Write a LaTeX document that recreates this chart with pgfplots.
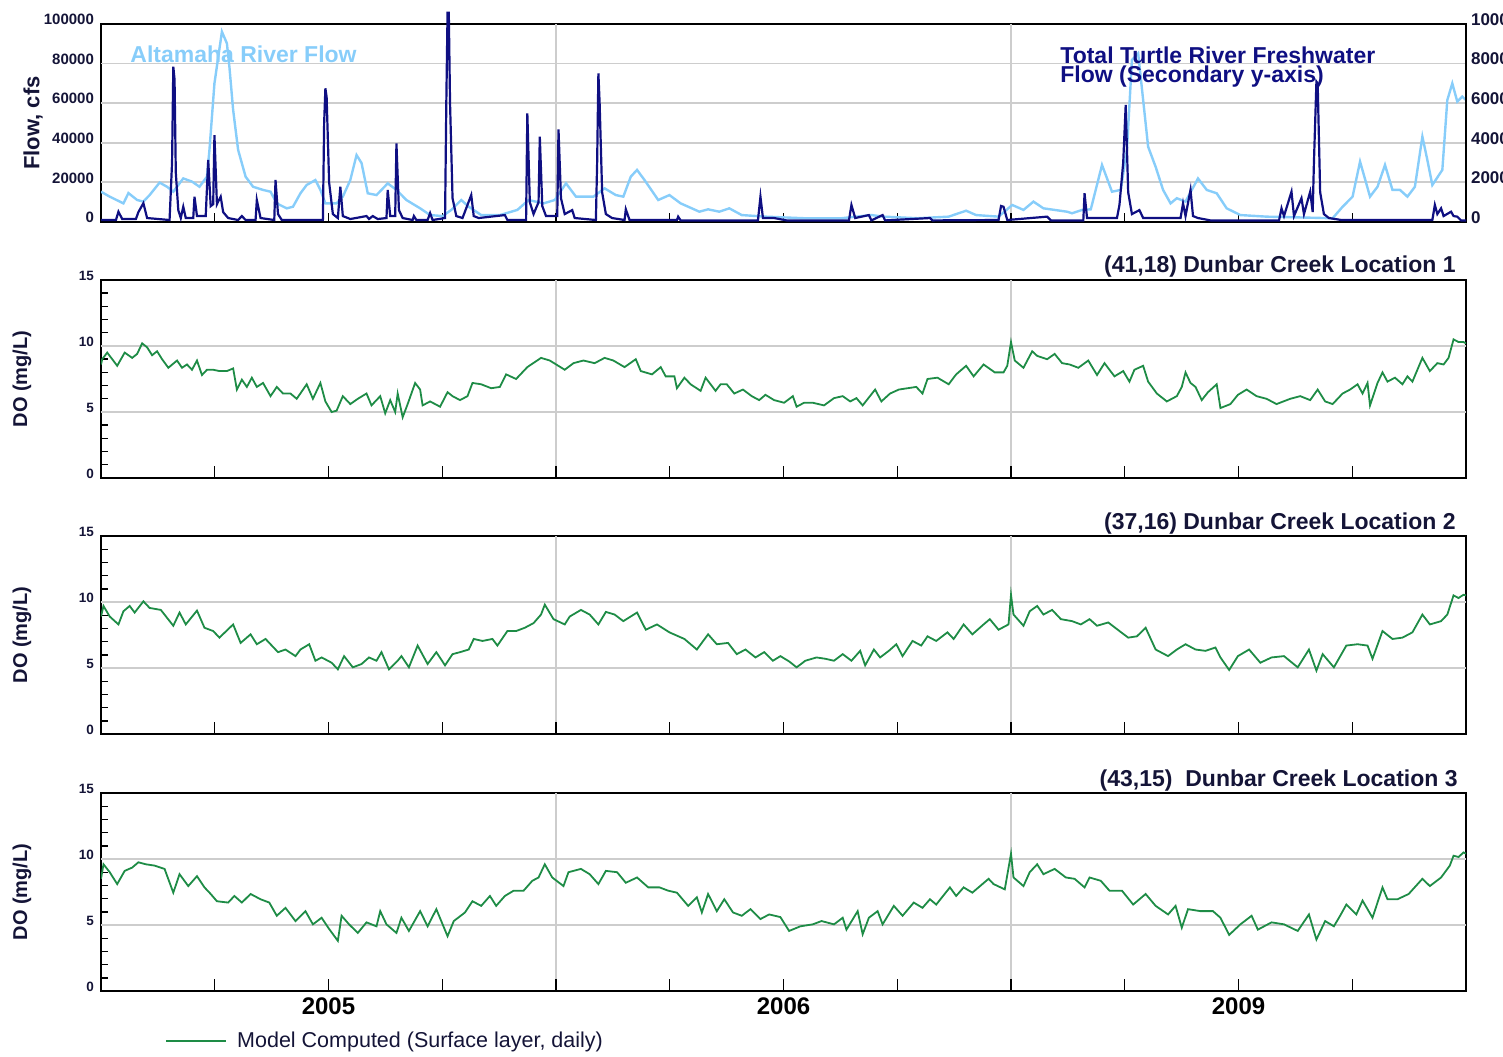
\documentclass[border=0pt]{standalone}
\usepackage{fontspec}
\setmainfont{Liberation Sans}
\usepackage{pgfplots}
\usepackage{pgfplotstable}
\pgfplotsset{compat=1.18}

\definecolor{altblue}{RGB}{135,205,250}
\definecolor{turtlenavy}{RGB}{15,15,130}
\definecolor{dogreen}{RGB}{30,140,70}
\definecolor{gridgray}{RGB}{205,205,205}
\definecolor{labnavy}{RGB}{20,20,55}

% Altamaha River flow (cfs), day from start of record
\pgfplotstableread{
day flow
0 15300
7 12800
18 9400
22 14600
29 11100
34 10300
39 13600
47 19900
53 17800
58 15300
66 22000
73 20400
79 17800
85 22900
87 36400
91 70000
97 96100
101 90200
103 78400
106 56600
110 36400
116 22900
122 17800
130 16200
136 15300
141 9400
149 6900
154 7700
160 14500
165 18700
172 21200
176 16200
180 9400
189 9400
194 12800
200 21200
205 33800
209 29800
214 14500
221 13600
230 19500
237 16200
245 11100
256 6900
264 3500
274 3000
281 6100
289 11100
295 7700
305 3500
320 3500
334 6100
343 11100
355 9400
364 11100
373 19500
381 12800
388 12800
395 12800
404 17000
413 13600
419 12800
425 22900
430 26300
436 21200
447 11100
456 13600
465 9400
480 5200
487 6400
496 5200
504 6900
514 3500
533 2700
564 1900
594 1900
618 3500
628 2700
655 1900
680 2700
694 5700
702 3500
720 2700
731 8600
740 6100
748 10300
756 6900
775 5200
779 4400
787 6100
794 6400
803 28800
811 15300
818 16200
823 36400
827 81800
832 85200
836 61600
840 38000
846 27900
852 16200
858 9400
863 12000
870 10300
880 22000
887 16200
895 14500
903 6900
914 3500
935 2700
988 1900
996 7700
1004 12800
1010 30500
1018 12800
1024 17800
1030 28800
1036 16200
1042 16200
1048 12800
1054 17800
1060 43100
1064 31300
1068 18700
1076 26300
1080 61600
1084 70000
1088 60800
1092 63300
1095 61600
}\altamaha

% Total Turtle River freshwater flow (secondary axis)
\pgfplotstableread{
day flow
0 1000
12 1000
14 5200
17 1500
28 1500
30 5000
34 9500
37 2000
55 1000
57 30000
58 78400
59 72000
60 25000
62 6000
64 2000
66 7700
68 2000
74 2000
75 12800
77 3000
84 3000
86 31300
88 8000
90 9000
91 43900
93 9000
96 12800
98 5000
102 2000
110 1000
113 3000
116 1000
124 1000
125 11100
128 2000
139 1000
140 21200
142 4000
145 1000
178 1000
179 50000
180 67500
181 63000
183 20000
186 4000
190 2000
192 17800
194 3000
200 1500
213 3000
215 1500
218 3000
222 1500
229 2000
230 16200
232 3000
236 3000
237 39700
239 6000
242 2000
250 1000
251 3000
253 1000
262 1000
264 4500
266 1000
276 2000
277 60000
278 105700
279 105700
280 60000
282 12000
285 3000
290 2000
297 13600
299 3000
303 2000
324 3500
326 1000
341 1000
342 54900
344 10000
347 4000
351 10000
352 43100
354 8000
357 3000
366 3000
367 46800
369 12000
372 4000
378 6000
380 2000
397 1000
398 30000
399 75100
400 60000
402 15000
405 4000
410 2000
420 1000
421 6400
424 1000
462 1000
463 2700
465 800
527 800
529 12800
531 2000
540 2000
550 800
600 800
602 8600
605 2000
616 3500
618 800
627 3500
629 800
665 2000
667 800
720 1000
722 8100
724 7700
727 1000
759 2700
762 800
788 800
789 14500
791 2000
815 2000
817 8600
820 30000
822 59100
824 15000
827 4000
833 6000
836 2000
866 2000
868 9400
870 3000
874 16200
876 3000
880 2000
890 800
945 800
947 6900
949 3000
955 15300
957 3000
963 12000
965 4000
970 15300
972 5000
973 30000
975 70900
976 70000
978 15000
981 4000
985 2000
995 1000
1068 1000
1070 8600
1072 4000
1075 6900
1077 3000
1083 5200
1085 3000
1088 2700
1091 800
1095 800
}\turtle

% DO, (41,18) Dunbar Creek Location 1
\pgfplotstableread{
day do
0 8.6
1 9.0
5 9.5
13 8.5
19 9.5
25 9.1
29 9.4
33 10.2
37 9.9
41 9.3
45 9.6
49 9.0
54 8.35
61 8.9
65 8.35
69 8.6
73 8.2
77 8.9
81 7.8
85 8.2
90 8.2
95 8.1
101 8.1
106 8.3
109 6.7
113 7.45
117 6.9
121 7.6
125 6.9
130 7.2
136 6.2
141 6.9
146 6.4
152 6.4
157 6.0
165 7.1
170 6.0
176 7.2
180 5.8
185 5.0
189 5.1
194 6.2
200 5.6
206 6.0
213 6.4
217 5.5
224 6.2
228 4.9
232 5.9
236 5.0
238 6.4
242 4.6
246 5.6
252 7.2
256 6.7
258 5.5
264 5.8
272 5.4
278 6.5
282 6.2
288 5.9
294 6.2
298 7.2
305 7.1
313 6.8
320 6.9
325 7.85
333 7.5
342 8.4
353 9.1
360 8.9
372 8.2
379 8.7
387 8.9
396 8.7
404 9.1
411 8.9
420 8.4
429 9.0
433 8.1
442 7.85
449 8.4
453 7.7
460 7.7
462 6.8
468 7.6
473 7.1
481 6.6
485 7.6
493 6.6
497 7.1
502 7.1
508 6.4
515 6.7
522 6.2
528 5.9
533 6.3
540 5.9
548 5.7
555 6.2
558 5.4
564 5.7
571 5.7
580 5.5
588 6.05
595 6.2
601 5.8
606 6.05
611 5.5
621 6.7
626 5.8
633 6.4
640 6.7
647 6.8
654 6.9
659 6.4
663 7.5
671 7.6
680 7.1
686 7.85
694 8.5
700 7.7
708 8.6
717 8.0
724 8.0
727 8.5
730 10.3
733 8.9
740 8.35
747 9.6
751 9.25
759 9.0
765 9.4
771 8.7
777 8.6
784 8.35
792 8.9
799 7.8
805 8.7
813 7.7
820 8.1
825 7.3
829 8.2
836 8.5
840 7.3
847 6.4
855 5.8
863 6.2
867 6.9
870 8.0
874 7.2
878 6.9
883 5.9
888 6.5
895 7.1
898 5.3
906 5.6
912 6.3
919 6.7
927 6.2
935 6.0
943 5.6
954 6.0
962 6.2
970 5.9
976 6.7
982 5.8
988 5.6
996 6.4
1002 6.7
1008 7.1
1012 6.4
1016 7.2
1018 5.5
1024 7.2
1028 8.0
1032 7.3
1038 7.6
1044 7.1
1048 7.7
1052 7.3
1060 9.1
1066 8.1
1072 8.7
1077 8.6
1081 9.1
1085 10.5
1089 10.3
1093 10.3
1095 10.2
}\doA

% DO, (37,16) Dunbar Creek Location 2
\pgfplotstableread{
day do
0 8.9
2 9.7
7 8.9
14 8.3
18 9.3
23 9.7
27 9.2
34 10.05
39 9.55
48 9.4
58 8.2
63 9.2
68 8.3
77 9.35
83 8.05
90 7.8
95 7.3
106 8.3
112 6.9
120 7.55
125 6.8
132 7.2
142 6.2
148 6.4
156 5.9
160 6.4
167 6.8
172 5.55
177 5.8
185 5.4
190 4.9
195 5.9
202 5.05
209 5.3
215 5.8
221 5.55
225 6.2
231 4.9
238 5.55
241 5.9
247 5.05
254 6.7
262 5.3
269 6.2
276 5.2
282 6.05
288 6.2
295 6.4
299 7.2
306 7.05
314 7.2
318 6.7
326 7.8
333 7.8
340 8.05
347 8.4
353 9.05
356 9.8
363 8.7
372 8.3
376 8.9
385 9.4
392 9.05
399 8.3
405 9.25
412 9.05
419 8.55
430 9.2
437 7.9
446 8.3
456 7.7
468 7.2
478 6.4
487 7.55
494 6.8
503 6.9
510 6.05
517 6.4
525 5.8
532 6.2
539 5.55
545 5.9
552 5.5
558 5.05
565 5.55
574 5.8
581 5.7
588 5.55
595 6.05
602 5.55
609 6.3
613 5.2
620 6.4
625 5.8
632 6.3
638 6.8
643 5.9
651 7.05
658 6.7
663 7.4
670 7.05
679 7.7
684 7.2
692 8.3
699 7.55
708 8.3
713 8.7
720 7.9
728 8.3
730 10.55
732 9.05
740 8.2
745 9.3
751 9.7
756 9.05
763 9.4
770 8.7
779 8.55
786 8.3
793 8.7
799 8.2
808 8.45
817 7.8
824 7.3
831 7.4
838 8.05
846 6.4
856 5.9
863 6.4
870 6.8
878 6.4
886 6.3
894 6.55
898 5.8
905 4.85
912 5.9
921 6.4
930 5.4
939 5.8
949 5.9
960 5.05
969 6.4
975 4.8
980 6.05
989 5.05
999 6.7
1008 6.8
1016 6.7
1020 5.7
1028 7.8
1036 7.2
1044 7.3
1052 7.7
1060 9.05
1066 8.3
1075 8.55
1080 9.05
1085 10.5
1089 10.3
1093 10.55
1095 10.5
}\doB

% DO, (43,15) Dunbar Creek Location 3
\pgfplotstableread{
day do
0 8.5
2 9.6
7 9.0
13 8.1
19 9.1
25 9.35
30 9.75
36 9.6
43 9.5
51 9.25
58 7.45
63 8.85
70 7.95
77 8.7
83 7.85
88 7.35
93 6.8
102 6.7
107 7.2
113 6.7
120 7.35
128 6.95
135 6.7
141 5.7
148 6.3
156 5.3
164 6.05
170 5.05
177 5.55
183 4.7
190 3.8
193 5.7
199 5.05
206 4.4
213 5.2
221 4.9
224 6.05
229 5.05
237 4.4
241 5.55
247 4.55
256 6.05
262 4.9
269 6.2
278 4.15
283 5.3
292 5.95
298 6.8
305 6.45
312 7.2
317 6.45
324 7.2
331 7.6
339 7.6
346 8.35
351 8.6
356 9.6
362 8.6
371 7.95
375 9.0
385 9.25
392 8.85
399 8.1
405 9.1
414 9.0
421 8.2
430 8.6
439 7.85
448 7.85
455 7.6
462 7.45
471 6.45
478 7.1
482 5.95
487 7.35
494 6.05
500 6.95
507 5.95
514 5.7
521 6.2
529 5.45
536 5.8
545 5.6
552 4.55
561 4.9
571 5.05
578 5.3
588 5.05
595 5.55
598 4.65
607 6.05
611 4.3
616 5.55
623 6.05
627 5.05
636 6.45
643 5.7
652 6.7
659 6.3
665 6.95
670 6.55
681 7.85
686 7.2
692 7.85
699 7.45
712 8.5
716 8.1
725 7.7
730 10.4
732 8.6
740 7.95
745 9.0
751 9.6
756 8.85
765 9.25
774 8.6
781 8.5
789 7.85
793 8.6
802 8.35
809 7.6
819 7.6
828 6.55
838 7.35
846 6.45
856 5.8
862 6.45
867 4.8
872 6.2
882 6.05
892 6.05
898 5.55
905 4.25
914 5.05
923 5.7
928 4.65
939 5.2
949 5.05
960 4.55
969 5.8
975 3.9
982 5.3
989 4.9
994 5.7
999 6.55
1007 5.8
1012 6.85
1020 5.55
1028 7.85
1032 6.95
1040 6.95
1049 7.35
1060 8.5
1066 7.95
1075 8.6
1082 9.5
1085 10.25
1089 10.15
1093 10.5
1095 10.4
}\doC

\pgfplotsset{
  base/.style={
    scale only axis, width=682.5pt, height=99pt,
    anchor=south west,
    xmin=0, xmax=1095,
    xtick={91.25,182.5,273.75,365,456.25,547.5,638.75,730,821.25,912.5,1003.75},
    xticklabels={},
    extra x ticks={365,730},
    extra x tick labels={},
    extra x tick style={grid=major},
    tick align=inside,
    tick pos=left,
    scaled y ticks=false,
    axis line style={black, line width=0.8pt},
    every tick/.style={black, line width=0.7pt},
    grid style={gridgray, line width=0.9pt},
    /pgf/number format/assume math mode=true,
  },
  dopanel/.style={
    base,
    ymin=0, ymax=15,
    ytick={0,5,10,15},
    yticklabels={0,5,10,15},
    minor ytick={1,2,3,4,6,7,8,9,11,12,13,14},
    extra y ticks={5,10},
    extra y tick labels={},
    extra y tick style={grid=major},
    major tick length=6pt,
    minor tick length=3.5pt,
    every major y tick/.append style={draw=none},
    yticklabel style={font=\bfseries\fontsize{6.75}{7}\selectfont, text=labnavy, yshift=2.25pt},
    xticklabel style={font=\bfseries\fontsize{12}{14}\selectfont, text=black},
  },
}

\begin{document}
\begin{tikzpicture}
% ---------- top panel: flows ----------
\begin{axis}[base, name=top, at={(50.5pt,417pt)},
  ymin=0, ymax=100000,
  ytick={0,20000,40000,60000,80000,100000},
  yticklabels={0,20000,40000,60000,80000,100000},
  extra y ticks={20000,40000,60000,80000},
  extra y tick labels={},
  extra y tick style={grid=major},
  major tick length=4.5pt,
  every major y tick/.append style={draw=none},
  yticklabel style={font=\bfseries\fontsize{7.5}{8}\selectfont, text=labnavy, yshift=2.25pt},
]
\addplot[altblue, line width=1.2pt] table[x=day, y=flow]{\altamaha};
\end{axis}
\begin{axis}[scale only axis, width=682.5pt, height=99pt, anchor=south west,
  at={(50.5pt,417pt)},
  xmin=0, xmax=1095, axis x line=none, axis y line*=right,
  ymin=0, ymax=100000,
  ytick={0,20000,40000,60000,80000,100000},
  yticklabels={0,20000,40000,60000,80000,100000},
  scaled y ticks=false,
  major tick length=0pt,
  axis line style={black, line width=0.8pt},
  yticklabel style={font=\bfseries\fontsize{8.5}{9}\selectfont, text=labnavy, yshift=2.25pt, xshift=-1pt},
  clip=false,
]
\addplot[turtlenavy, line width=1.1pt] table[x=day, y=flow]{\turtle};
\end{axis}

% ---------- DO panels ----------
\begin{axis}[dopanel, name=p1, at={(50.5pt,289pt)}]
\addplot[dogreen, line width=0.9pt] table[x=day, y=do]{\doA};
\end{axis}
\begin{axis}[dopanel, name=p2, at={(50.5pt,161pt)}]
\addplot[dogreen, line width=0.9pt] table[x=day, y=do]{\doB};
\end{axis}
\begin{axis}[dopanel, name=p3, at={(50.5pt,32.5pt)},
  xticklabels={,2005,,,,2006,,,,2009,},
  legend style={at={(axis description cs:0.0469,-0.2525)}, anchor=west,
    draw=none, fill=none, inner sep=0pt,
    font=\fontsize{10.75}{12}\selectfont, text=labnavy},
  legend image code/.code={\draw[#1] (0pt,0pt) -- (30pt,0pt); \path (33pt,0pt);},
]
\addplot[dogreen, line width=0.9pt] table[x=day, y=do]{\doC};
\addlegendentry{Model Computed (Surface layer, daily)}
\end{axis}

% ---------- texts ----------
\node[rotate=90, font=\bfseries\fontsize{11}{13}\selectfont, text=labnavy]
  at ([xshift=-34pt]top.west) {Flow, cfs};
\foreach \p in {p1,p2,p3}{
  \node[rotate=90, font=\bfseries\fontsize{10}{12}\selectfont, text=labnavy]
    at ([xshift=-39.5pt]\p.west) {DO (mg/L)};
}
\node[anchor=base west, inner sep=0pt, font=\bfseries\fontsize{11.5}{12}\selectfont, text=altblue]
  at (65pt,496.5pt) {Altamaha River Flow};
\node[anchor=north west, inner sep=0pt, align=left,
  font=\bfseries\fontsize{11.5}{9.3}\selectfont, text=turtlenavy]
  at (530pt,504.8pt) {Total Turtle River Freshwater\\Flow (Secondary y-axis)};
\node[anchor=base east, inner sep=0pt, font=\bfseries\fontsize{11.5}{12}\selectfont, text=labnavy]
  at ([xshift=-5pt,yshift=3.5pt]p1.north east) {(41,18) Dunbar Creek Location 1};
\node[anchor=base east, inner sep=0pt, font=\bfseries\fontsize{11.5}{12}\selectfont, text=labnavy]
  at ([xshift=-5pt,yshift=3.5pt]p2.north east) {(37,16) Dunbar Creek Location 2};
\node[anchor=base east, inner sep=0pt, font=\bfseries\fontsize{11.5}{12}\selectfont, text=labnavy]
  at ([xshift=-4pt,yshift=3.5pt]p3.north east) {(43,15)\ \ Dunbar Creek Location 3};

\pgfresetboundingbox
\path[use as bounding box] (0pt,0pt) rectangle (751.5pt,528pt);
\end{tikzpicture}
\end{document}
